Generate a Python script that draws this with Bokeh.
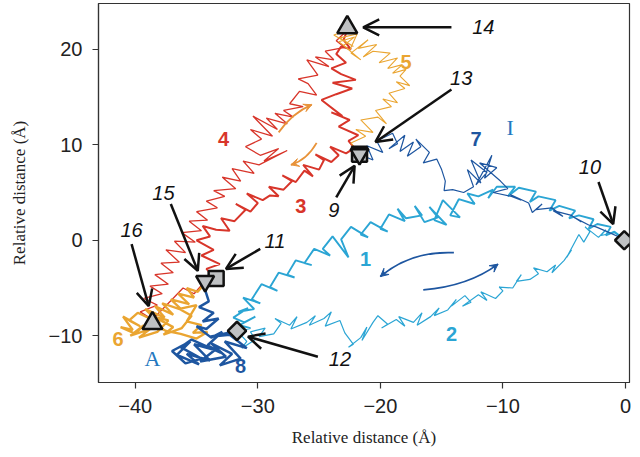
import numpy as np
from bokeh.plotting import figure
from bokeh.models import ColumnDataSource, FixedTicker, Arrow, OpenHead, VeeHead, Range1d
from bokeh.core.properties import value
from bokeh.embed import file_html
from bokeh.resources import INLINE

RED = "#d8352a"
ORANGE = "#eaa531"
DBLUE = "#1e56a0"
LBLUE = "#2ba5d4"

# ---- trajectories (Relative distance, Å) ----
x1 = [-0.1, -0.9, -1.6, -1.2, -2.3, -3.0, -2.6, -3.8, -4.6, -4.1, -5.4, -6.2, -5.7, -7.1, -7.8, -7.3, -8.7, -9.6, -9.0,
      -10.5, -11.2, -10.8, -12.0, -12.9, -12.3, -13.6, -14.3, -13.5, -14.9, -15.6, -14.6, -16.0, -15.3, -16.4, -17.2,
      -16.6, -17.9, -18.6, -18.0, -19.3, -20.0, -19.4, -20.8, -21.6, -21.0, -22.4, -23.2, -22.6, -23.9, -24.7, -24.1,
      -25.4, -26.2, -25.6, -26.9, -27.6, -27.0, -28.3, -29.0, -28.4, -29.7, -30.5, -29.8, -31.2, -30.3, -31.6, -30.8,
      -32.0, -31.1, -30.2, -31.5, -30.6, -31.7]
y1 = [0.1, 0.9, 0.5, 1.4, 1.7, 1.2, 2.2, 2.6, 2.3, 3.1, 3.6, 3.1, 4.2, 4.6, 4.0, 5.1, 5.5, 4.6, 5.6, 5.6, 4.4, 5.3,
      4.6, 4.9, 3.8, 4.3, 2.6, 2.4, 4.2, 2.1, 1.6, 3.5, 2.4, 1.9, 3.6, 2.6, 2.3, 3.3, 2.0, 2.7, 1.2, 0.9, 1.9, 0.6,
      0.3, 1.4, 0.1, -1.8, 0.4, -0.9, -1.6, -0.9, -2.4, -2.6, -2.1, -3.6, -3.9, -3.4, -4.9, -5.3, -4.6, -6.2, -6.6,
      -6.0, -7.2, -7.5, -7.1, -8.1, -8.6, -8.0, -8.9, -9.2, -9.5]

x2 = [-31.7, -30.9, -31.3, -30.2, -30.6, -29.4, -29.9, -28.7, -28.1, -28.6, -27.4, -26.8, -27.3, -26.0, -25.3, -25.8,
      -24.6, -24.0, -24.5, -23.3, -22.9, -22.2, -22.6, -21.6, -21.1, -21.5, -20.6, -20.2, -19.4, -19.9, -18.7, -18.0,
      -18.5, -17.3, -16.6, -17.0, -15.9, -15.2, -15.6, -14.5, -13.8, -14.2, -13.1, -12.6, -13.3, -12.0, -11.3, -11.8,
      -10.6, -10.0, -10.3, -9.2, -8.5, -8.9, -7.8, -7.1, -7.5, -6.4, -5.7, -6.0, -5.0, -4.4, -4.8, -3.8, -3.4, -2.9,
      -3.3, -2.2, -1.6, -2.0, -0.9, -0.1]
y2 = [-9.5, -10.6, -11.3, -10.4, -9.6, -9.2, -10.1, -9.8, -8.7, -8.2, -8.9, -8.0, -9.3, -8.6, -7.9, -8.9, -8.2, -7.5,
      -9.0, -8.4, -9.7, -10.9, -11.2, -10.2, -9.1, -10.5, -8.6, -7.9, -8.8, -9.2, -8.3, -9.0, -8.0, -8.6, -7.6, -8.9,
      -8.0, -7.1, -7.9, -7.3, -6.2, -6.9, -5.8, -6.5, -6.9, -5.7, -6.3, -5.4, -6.1, -5.3, -4.9, -5.0, -3.6, -4.3, -4.1,
      -3.5, -2.9, -3.3, -2.6, -3.4, -2.1, -1.0, -1.8, 0.6, -0.2, 0.9, 1.4, 0.3, 1.1, 0.5, 0.8, 0.1]

x3 = [-33.4, -34.2, -33.1, -34.6, -33.6, -35.0, -33.9, -34.5, -33.4, -32.3, -33.0, -31.9, -31.0, -31.8, -30.6, -30.0,
      -30.9, -29.6, -29.0, -28.3, -29.1, -27.9, -27.2, -28.0, -26.9, -26.2, -25.5, -26.3, -25.0, -24.6, -25.3, -24.0,
      -23.4, -24.1, -22.8, -22.2, -21.7, -22.6, -21.8, -23.4, -22.5, -24.0, -23.1, -24.8, -23.6, -22.3, -23.9, -22.0,
      -23.2, -24.0, -22.8, -23.6, -23.2, -22.4, -23.0, -22.7]
y3 = [-4.0, -3.0, -2.5, -1.6, -1.0, 0.0, 0.4, 1.5, 1.1, 1.0, 2.3, 2.0, 3.2, 3.8, 3.0, 3.9, 4.9, 4.2, 4.7, 4.6, 5.6,
      5.3, 6.2, 6.8, 6.1, 7.3, 6.7, 7.9, 7.4, 8.4, 9.0, 8.2, 8.9, 9.8, 9.1, 9.6, 9.0, 10.4, 11.0, 11.9, 12.6, 13.4,
      13.0, 14.7, 15.3, 15.9, 16.5, 16.8, 17.4, 18.0, 18.6, 19.5, 20.3, 20.0, 21.0, 22.0]

x4 = [-22.7, -23.6, -22.9, -24.5, -23.8, -25.3, -24.2, -26.0, -25.1, -26.7, -25.9, -25.2, -26.6, -27.4, -26.3, -27.9,
      -27.1, -28.6, -27.6, -29.3, -28.4, -30.4, -28.8, -30.6, -29.7, -31.0, -29.8, -28.3, -29.5, -27.6, -29.9, -31.2,
      -30.3, -32.1, -31.4, -32.9, -31.8, -33.6, -32.7, -34.2, -33.3, -35.0, -34.1, -35.6, -34.6, -36.2, -35.1, -36.8,
      -35.9, -37.5, -36.4, -37.9, -36.9, -38.4, -37.3, -38.8, -37.8, -39.3, -38.2, -39.6, -38.6, -37.0, -36.1, -35.2,
      -34.3]
y4 = [22.0, 20.9, 20.2, 19.8, 18.9, 19.2, 18.2, 18.9, 17.3, 16.9, 16.4, 15.2, 15.6, 14.3, 14.0, 13.6, 12.9, 13.3,
      12.2, 12.8, 11.6, 13.0, 10.9, 11.6, 10.6, 9.8, 8.9, 9.6, 8.3, 9.4, 7.9, 8.3, 7.0, 7.5, 6.2, 6.6, 5.4, 5.2, 4.6,
      4.1, 3.4, 3.0, 2.1, 2.0, 1.0, 0.8, -0.2, -0.1, -1.3, -1.0, -2.3, -2.4, -3.4, -3.6, -4.6, -4.8, -5.6, -6.1,
      -6.8, -7.5, -8.3, -6.2, -5.0, -5.6, -4.3]

x5 = [-21.7, -22.4, -21.2, -22.0, -20.6, -21.6, -20.2, -19.5, -20.4, -19.1, -19.8, -18.6, -19.3, -18.0, -18.7, -17.6,
      -18.4, -17.9, -19.0, -18.2, -19.4, -18.6, -20.1, -19.2, -20.6, -21.4, -20.3, -21.8, -21.0, -22.4, -21.6, -23.0,
      -22.1, -23.4, -22.5, -21.9, -23.3, -22.2, -23.8, -22.7]
y5 = [9.0, 10.2, 10.9, 11.6, 11.3, 12.6, 12.9, 12.2, 13.6, 14.0, 14.8, 14.4, 15.4, 15.9, 16.6, 16.2, 17.2, 17.9,
      17.5, 18.4, 18.0, 19.1, 18.6, 19.6, 19.8, 19.2, 20.5, 20.1, 21.0, 19.6, 18.9, 20.4, 21.3, 20.8, 19.9, 21.6,
      21.2, 20.3, 21.5, 22.0]

x6 = [-34.3, -34.9, -35.8, -35.2, -36.5, -35.6, -37.1, -36.2, -37.8, -36.9, -38.4, -37.6, -39.2, -38.0, -39.8, -40.5,
      -39.6, -41.0, -40.2, -41.2, -40.0, -39.3, -40.4, -38.8, -39.7, -38.2, -37.3, -38.5, -36.9, -37.7, -36.2, -35.4,
      -36.4, -35.0, -35.8, -34.6, -35.3, -34.1, -35.0, -36.3, -37.5, -38.6]
y6 = [-4.5, -5.4, -5.0, -6.0, -5.6, -6.7, -6.2, -7.3, -6.6, -7.8, -6.9, -8.1, -7.2, -8.7, -7.6, -8.4, -9.0, -8.0,
      -9.4, -9.1, -9.8, -8.9, -10.0, -9.3, -10.2, -9.6, -8.4, -8.0, -9.1, -9.9, -9.2, -7.9, -7.2, -6.8, -8.5, -8.9,
      -9.7, -9.6, -10.3, -9.8, -9.5, -8.7]

x7 = [-21.7, -20.6, -21.1, -19.8, -20.3, -19.0, -18.6, -19.3, -18.0, -18.4, -17.3, -17.8, -16.7, -17.1, -16.0, -16.5,
      -15.4, -15.0, -14.7, -14.8, -14.1, -13.2, -12.4, -12.9, -11.8, -12.6, -11.3, -12.2, -10.9, -11.5, -10.5, -11.9,
      -10.2, -9.6, -10.8, -9.3, -8.5, -9.4, -7.9, -7.6, -6.8, -7.3, -6.0, -5.1, -5.9, -4.4, -3.6, -4.2, -3.0, -2.4,
      -1.5, -0.1]
y7 = [9.0, 8.4, 9.9, 9.2, 10.4, 11.2, 10.1, 9.6, 11.0, 9.3, 10.3, 8.8, 9.8, 10.6, 9.2, 8.1, 8.5, 7.4, 6.2, 5.2, 5.3,
      5.0, 5.6, 7.4, 6.0, 8.4, 7.1, 5.8, 8.9, 6.5, 7.6, 8.1, 6.2, 5.4, 5.0, 4.6, 4.2, 4.8, 3.9, 2.9, 3.8, 3.2, 3.4,
      2.5, 3.1, 2.6, 1.9, 2.4, 1.6, 1.4, 0.9, 0.1]

x8 = [-34.3, -34.0, -34.8, -33.6, -34.5, -33.2, -34.2, -35.0, -33.8, -32.9, -34.1, -33.0, -35.4, -36.3, -34.6, -35.9,
      -37.0, -35.5, -36.6, -34.8, -35.8, -33.9, -35.2, -33.5, -34.7, -32.6, -33.8, -32.1, -33.1, -31.4, -32.7, -30.9,
      -32.3, -33.9, -31.7]
y8 = [-5.2, -6.4, -7.0, -7.6, -8.5, -8.2, -9.3, -9.0, -10.2, -9.6, -11.0, -11.8, -10.4, -11.2, -12.4, -12.9, -11.6,
      -10.6, -12.0, -13.0, -11.9, -12.6, -10.9, -11.5, -12.7, -12.2, -10.8, -11.9, -13.1, -12.4, -10.6, -11.3, -9.9,
      -10.1, -9.5]

# ---- state markers ----
tri_x = [-22.7, -38.6]          # 14, 16
tri_y = [22.3, -8.7]
itri_x = [-34.3, -21.7]         # 15, 13
itri_y = [-4.3, 9.0]
sq_x = [-33.4, -21.7]           # 11, 9
sq_y = [-4.0, 9.0]
dia_x = [-31.7, -0.1]           # 12, 10
dia_y = [-9.5, 0.0]

# ---- numbered pointers ----
ptr_labels = ["14", "13", "9", "10", "15", "11", "16", "12"]
ptr_lx = [-11.6, -13.4, -23.8, -2.9, -37.7, -28.6, -40.3, -23.3]
ptr_ly = [22.3, 17.0, 3.2, 7.7, 5.0, -0.1, 1.1, -12.4]
ptr_x0 = [-14.2, -14.2, -23.6, -2.2, -37.1, -29.8, -40.3, -25.1]
ptr_y0 = [22.3, 15.8, 4.5, 6.1, 3.8, -0.9, -0.4, -12.2]
ptr_x1 = [-21.4, -20.4, -22.1, -1.0, -34.9, -32.6, -38.9, -30.8]
ptr_y1 = [22.3, 10.3, 7.8, 1.7, -3.2, -3.0, -6.9, -10.1]

# ---- segment labels ----
seg_labels = ["1", "2", "3", "4", "5", "6", "7", "8"]
seg_x = [-21.2, -14.2, -26.5, -32.8, -17.9, -41.4, -12.2, -31.4]
seg_y = [-2.0, -9.8, 3.6, 10.6, 18.7, -10.3, 10.6, -13.2]
seg_colors = [LBLUE, LBLUE, RED, RED, ORANGE, ORANGE, DBLUE, DBLUE]

state_labels = ["I", "A"]
state_x = [-9.4, -38.6]
state_y = [11.8, -12.4]

# ---- curved direction arrows (start, control, end) ----
arc_x0 = [-28.3, -25.2, -14.0, -16.5]
arc_y0 = [11.3, 10.2, -1.3, -5.2]
arc_cx = [-27.2, -26.0, -17.5, -12.8]
arc_cy = [13.3, 8.4, -1.1, -4.8]
arc_x1 = [-25.6, -27.3, -20.0, -10.4]
arc_y1 = [14.2, 7.9, -3.8, -2.5]
arc_colors = ["#e8933a", "#e8933a", DBLUE, DBLUE]

p = figure(width=632, height=449, output_backend="svg", toolbar_location=None,
           x_range=Range1d(-43.0, 0.33), y_range=Range1d(-14.9, 24.8),
           min_border_left=98, min_border_right=3, min_border_top=3, min_border_bottom=60)
p.background_fill_color = "white"
p.border_fill_color = "white"
p.grid.visible = False
p.outline_line_color = "#333333"
p.outline_line_width = 1.2

for ax in (p.xaxis[0], p.yaxis[0]):
    ax.axis_line_color = "#333333"
    ax.axis_line_width = 1.2
    ax.major_tick_in = 0
    ax.major_tick_out = 6
    ax.major_tick_line_color = "#333333"
    ax.major_tick_line_width = 1.2
    ax.minor_tick_line_color = None
    ax.major_label_text_font = "Liberation Sans"
    ax.major_label_text_font_size = "20px"
    ax.major_label_text_color = "#222222"
    ax.axis_label_text_font = "Liberation Serif"
    ax.axis_label_text_font_style = "normal"
    ax.axis_label_text_font_size = "17px"
    ax.axis_label_text_color = "#222222"

p.xaxis.ticker = FixedTicker(ticks=[-40, -30, -20, -10, 0])
p.yaxis.ticker = FixedTicker(ticks=[-10, 0, 10, 20])
p.xaxis.axis_label = "Relative distance (Å)"
p.yaxis.axis_label = "Relative distance (Å)"
p.xaxis.major_label_standoff = 10
p.yaxis.major_label_standoff = 10
p.xaxis.axis_label_standoff = 12
p.yaxis.axis_label_standoff = 17

# trajectories
p.line(x2, y2, line_color=LBLUE, line_width=1.2)
p.line(x1, y1, line_color=LBLUE, line_width=1.9)
p.line(x7, y7, line_color=DBLUE, line_width=1.2)
p.line(x4, y4, line_color=RED, line_width=1.3)
p.line(x3, y3, line_color=RED, line_width=2.0)
p.line(x5, y5, line_color=ORANGE, line_width=1.1)
p.line(x6, y6, line_color=ORANGE, line_width=2.3)
p.line(x8, y8, line_color=DBLUE, line_width=2.5)

# curved arrows
p.quadratic(x0=arc_x0, y0=arc_y0, x1=arc_x1, y1=arc_y1, cx=arc_cx, cy=arc_cy,
            line_color=arc_colors, line_width=1.8)
ax1 = np.array(arc_x1); ay1 = np.array(arc_y1)
acx = np.array(arc_cx); acy = np.array(arc_cy)
hx = ax1 - 0.15 * (ax1 - acx)
hy = ay1 - 0.15 * (ay1 - acy)
for i, c in enumerate(arc_colors):
    p.add_layout(Arrow(end=VeeHead(size=8, fill_color=c, line_color=c),
                       x_start=float(hx[i]), y_start=float(hy[i]),
                       x_end=float(ax1[i]), y_end=float(ay1[i]), line_color=c, line_width=1.5))

# markers
mk = dict(fill_color="#bfc1c3", line_color="#111111", line_width=2.5)
p.scatter(sq_x, sq_y, marker="square", size=15, **mk)
p.scatter(itri_x, itri_y, marker="inverted_triangle", size=18, **mk)
p.scatter(tri_x, tri_y, marker="triangle", size=20, **mk)
p.scatter(dia_x, dia_y, marker="square", angle=np.pi / 4, size=13, **mk)

# black pointer arrows
psrc = ColumnDataSource(dict(x0=ptr_x0, y0=ptr_y0, x1=ptr_x1, y1=ptr_y1))
p.add_layout(Arrow(end=OpenHead(size=16, line_width=2.5, line_color="#111111"), source=psrc,
                   x_start="x0", y_start="y0", x_end="x1", y_end="y1",
                   line_color="#111111", line_width=2.5))

# texts
p.text(ptr_lx, ptr_ly, text=ptr_labels, text_font=value("Liberation Sans"), text_font_style="italic",
       text_font_size="20px", text_color="#111111", text_align="center", text_baseline="middle")
p.text(seg_x, seg_y, text=seg_labels, text_font=value("Liberation Sans"), text_font_style="bold",
       text_font_size="20px", text_color=seg_colors, text_align="center", text_baseline="middle")
p.text(state_x, state_y, text=state_labels, text_font=value("Liberation Serif"),
       text_font_size="22px", text_color="#2478c0", text_align="center", text_baseline="middle")

open("out.html", "w").write(file_html(p, INLINE))
